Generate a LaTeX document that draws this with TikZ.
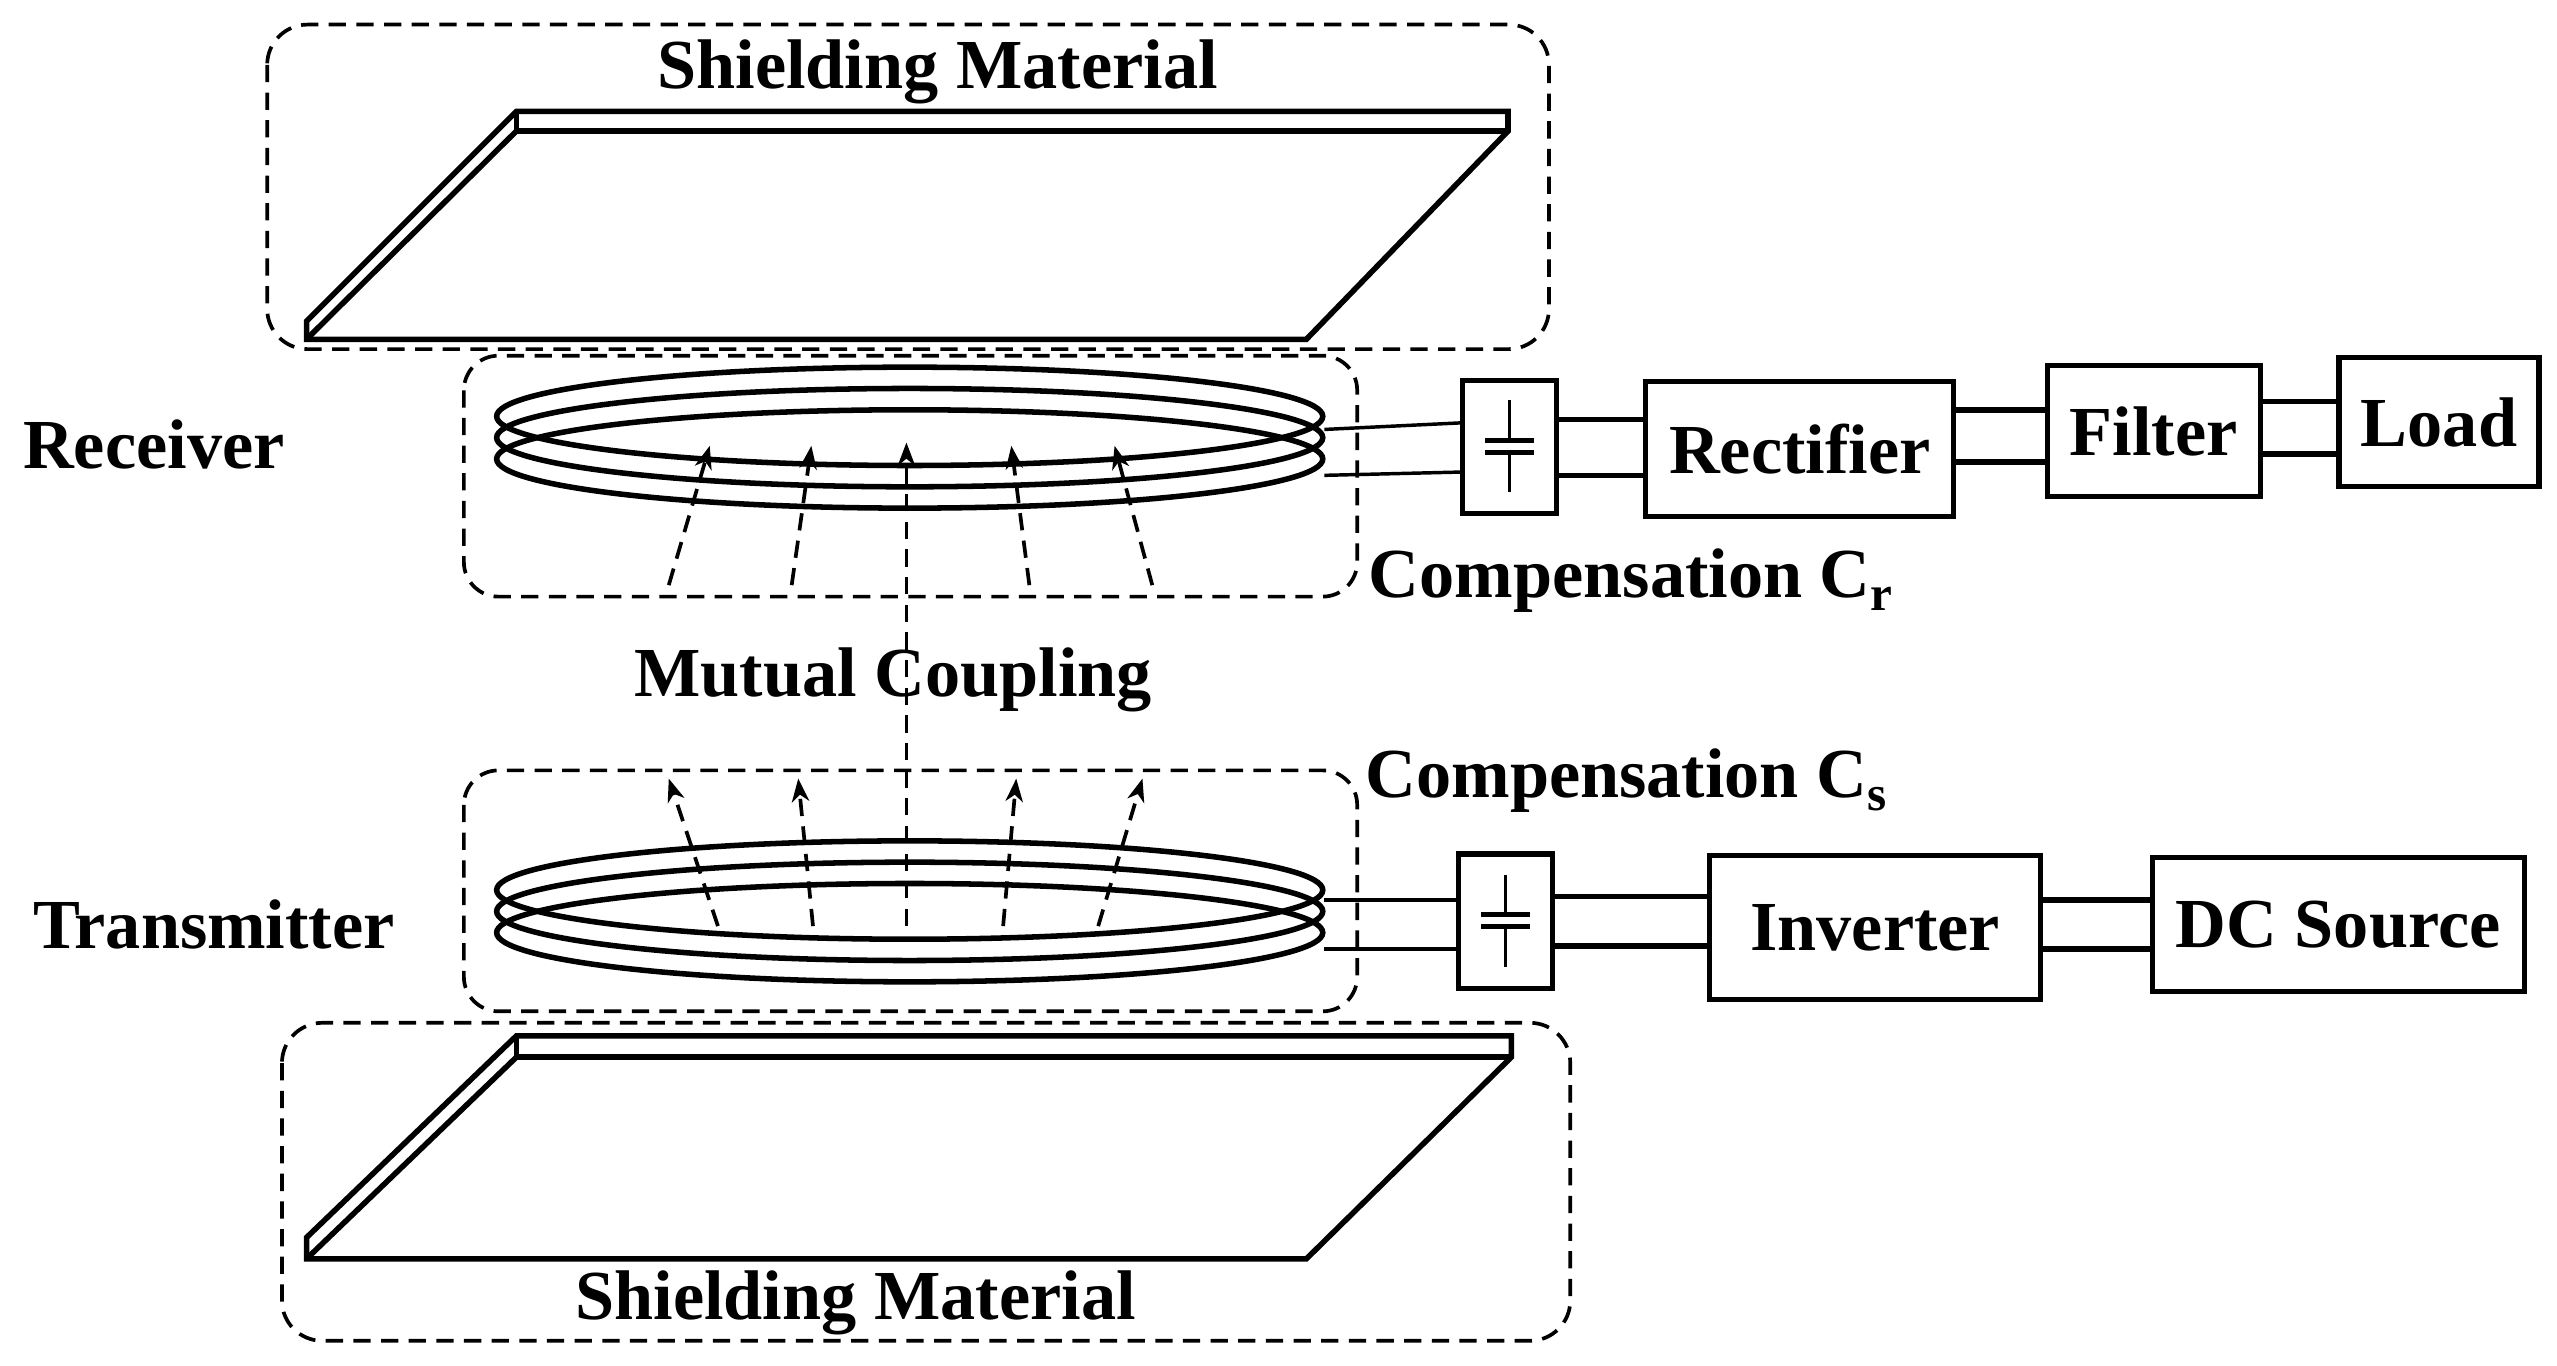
\documentclass[tikz,border=0pt]{standalone}
\usepackage{fontspec}
\setmainfont{Liberation Serif}
\usetikzlibrary{arrows.meta,calc}
\begin{document}
\begin{tikzpicture}[x=0.05cm,y=-0.05cm,
  solid line/.style={line width=4.8pt,line join=miter},
  dash line/.style={line width=3.2pt,dash pattern=on 15pt off 9pt},
  box/.style={draw,line width=4.4pt,inner sep=0pt,font=\fontsize{61}{64}\selectfont\bfseries},
  lbl/.style={font=\fontsize{61}{64}\selectfont\bfseries,inner sep=0pt},
  arr/.style={dash line,-{Stealth[length=20pt,width=15pt,inset=6pt]}}]
\useasboundingbox (0,0) rectangle (1560,833);
% shielding boxes
\draw[dash line,rounded corners=35] (163,15) rectangle (945,213);
\draw[dash line,rounded corners=35] (172,624) rectangle (958,818);
\node[lbl] (sm1) at (572,44) {Shielding Material};
\node[lbl] (sm2) at (522,795) {Shielding Material};
% top plate
\draw[solid line] (315,68) -- (920,68) -- (920,80) -- (797,207) -- (187,207) -- (187,196) -- cycle;
\draw[solid line] (315,68) -- (315,80) -- (920,80);
\draw[solid line] (315,80) -- (187,207);
% bottom plate
\draw[solid line] (315,632) -- (922,632) -- (922,645) -- (797,768) -- (187,768) -- (187,755) -- cycle;
\draw[solid line] (315,632) -- (315,645) -- (922,645);
\draw[solid line] (315,645) -- (187,768);
% coil boxes
\draw[dash line,rounded corners=30] (283,217) rectangle (828,364);
\draw[dash line,rounded corners=30] (283,470) rectangle (828,617);
% coils
\foreach \y in {254,267,280} \draw[solid line] (555,\y) ellipse [x radius=252,y radius=30];
\foreach \y in {543,556,569} \draw[solid line] (555,\y) ellipse [x radius=252,y radius=30];
% flux arrows receiver
\draw[arr] (408,357) -- (433,272);
\draw[arr] (483,357) -- (495,272);
\draw[arr] (628,357) -- (617,272);
\draw[arr] (703,357) -- (680,272);
\draw[arr] (553,565) -- (553,270);
% flux arrows transmitter
\draw[arr] (438,565) -- (408,475);
\draw[arr] (496,565) -- (487,475);
\draw[arr] (612,565) -- (620,475);
\draw[arr] (670,565) -- (697,475);
% labels
\node[lbl] (mc) at (545,415) {Mutual Coupling};
\node[lbl,anchor=west] (rx) at (14,271) {Receiver};
\node[lbl,anchor=west] (tx) at (20,564) {Transmitter};
\node[lbl,anchor=west] (cr) at (835,354) {Compensation C\textsubscript{r}};
\node[lbl,anchor=west] (cs) at (833,476) {Compensation C\textsubscript{s}};
% receiver chain
\node[box,minimum width=57*0.05cm,minimum height=81*0.05cm] (capr) at (921,272.5) {};
\node[box,minimum width=188*0.05cm,minimum height=82*0.05cm] (rect) at (1098,274) {Rectifier};
\node[box,minimum width=130*0.05cm,minimum height=80*0.05cm] (filt) at (1314,263) {Filter};
\node[box,minimum width=122*0.05cm,minimum height=79*0.05cm] (load) at (1488,257.5) {Load};
\draw[line width=3pt] (921,244) -- (921,268.6) (921,276) -- (921,300);
\draw[line width=4.4pt] (906,268.6) -- (936,268.6) (906,276) -- (936,276);
\draw[line width=3pt] (808,262) -- (capr.west |- 0,258) (808,290) -- (capr.west |- 0,288);
\draw[solid line] (capr.east |- 0,256) -- (rect.west |- 0,256) (capr.east |- 0,290) -- (rect.west |- 0,290);
\draw[solid line] (rect.east |- 0,250) -- (filt.west |- 0,250) (rect.east |- 0,282) -- (filt.west |- 0,282);
\draw[solid line] (filt.east |- 0,245) -- (load.west |- 0,245) (filt.east |- 0,277) -- (load.west |- 0,277);
% transmitter chain
\node[box,minimum width=57*0.05cm,minimum height=82*0.05cm] (caps) at (918.5,562) {};
\node[box,minimum width=202*0.05cm,minimum height=88*0.05cm] (inv) at (1144,566) {Inverter};
\node[box,minimum width=227*0.05cm,minimum height=82*0.05cm] (dc) at (1426.5,564) {DC Source};
\draw[line width=3pt] (918.5,534) -- (918.5,558) (918.5,565.5) -- (918.5,590);
\draw[line width=4.4pt] (903.5,558) -- (933.5,558) (903.5,565.5) -- (933.5,565.5);
\draw[line width=3pt] (808,549) -- (caps.west |- 0,549) (808,579) -- (caps.west |- 0,579);
\draw[solid line] (caps.east |- 0,547) -- (inv.west |- 0,547) (caps.east |- 0,577) -- (inv.west |- 0,577);
\draw[solid line] (inv.east |- 0,549) -- (dc.west |- 0,549) (inv.east |- 0,579) -- (dc.west |- 0,579);
\end{tikzpicture}
\end{document}
